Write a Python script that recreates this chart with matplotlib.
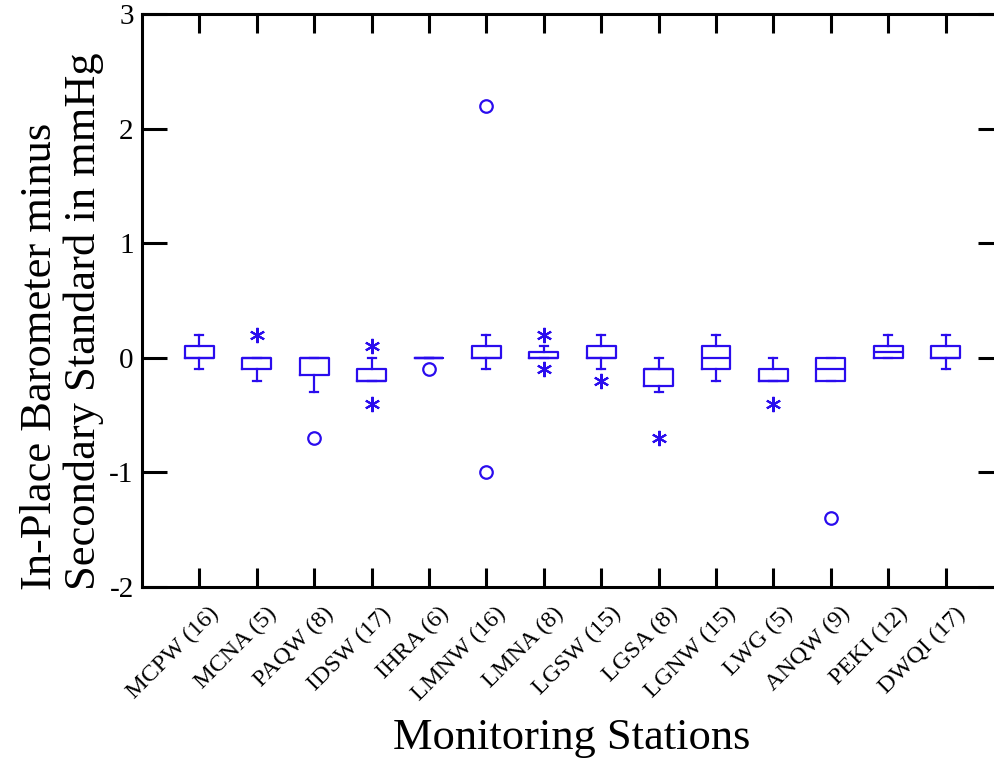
import numpy as np
import matplotlib.pyplot as plt
import matplotlib.transforms as mtransforms

plt.rcParams['font.family'] = ['Liberation Serif', 'DejaVu Serif']

estacoes = ["MCPW (16)", "MCNA (5)", "PAQW (8)", "IDSW (17)", "IHRA (6)",
            "LMNW (16)", "LMNA (8)", "LGSW (15)", "LGSA (8)", "LGNW (15)",
            "LWG (5)", "ANQW (9)", "PEKI (12)", "DWQI (17)"]

q1 = [0.0, -0.1, -0.15, -0.2, 0.0, 0.0, 0.0, 0.0, -0.25, -0.1, -0.2, -0.2, 0.0, 0.0]
mediana = [0.0, 0.0, 0.0, -0.2, 0.0, 0.0, 0.0, 0.0, -0.1, 0.0, -0.2, -0.1, 0.05, 0.0]
q3 = [0.1, 0.0, 0.0, -0.1, 0.0, 0.1, 0.05, 0.1, -0.1, 0.1, -0.1, 0.0, 0.1, 0.1]
bigode_inf = [-0.1, -0.2, -0.3, -0.2, 0.0, -0.1, 0.0, -0.1, -0.3, -0.2, -0.2, -0.2, 0.0, -0.1]
bigode_sup = [0.2, 0.0, 0.0, 0.0, 0.0, 0.2, 0.1, 0.2, 0.0, 0.2, 0.0, 0.0, 0.2, 0.2]

# outliers: asterisco = proximo, circulo = distante
asteriscos = {"MCNA (5)": [0.2], "IDSW (17)": [0.1, -0.4], "LMNA (8)": [0.2, -0.1],
              "LGSW (15)": [-0.2], "LGSA (8)": [-0.7], "LWG (5)": [-0.4]}
circulos = {"PAQW (8)": [-0.7], "IHRA (6)": [-0.1], "LMNW (16)": [2.2, -1.0],
            "ANQW (9)": [-1.4]}

AZUL = "#2a0cee"

fig = plt.figure(figsize=(9.95, 7.61), dpi=100)
ax = fig.add_axes([0.1427, 0.2286, 0.8653, 0.7530])

stats = []
for i, nome in enumerate(estacoes):
    stats.append({"med": mediana[i], "q1": q1[i], "q3": q3[i],
                  "whislo": bigode_inf[i], "whishi": bigode_sup[i], "fliers": []})

pos = np.arange(1, len(estacoes) + 1)
ax.bxp(stats, positions=pos, widths=0.5, capwidths=0.14, showfliers=False,
       boxprops=dict(color=AZUL, linewidth=1.6),
       medianprops=dict(color=AZUL, linewidth=1.6),
       whiskerprops=dict(color=AZUL, linewidth=1.6),
       capprops=dict(color=AZUL, linewidth=1.6))

for i, nome in enumerate(estacoes):
    for v in asteriscos.get(nome, []):
        ax.plot(pos[i], v, marker=(6, 2, 0), color=AZUL, markersize=11,
                markeredgewidth=1.5, linestyle="none")
    for v in circulos.get(nome, []):
        ax.plot(pos[i], v, marker="o", markerfacecolor="none", markeredgecolor=AZUL,
                markersize=9, markeredgewidth=1.6, linestyle="none")

ax.set_xlim(0, 15)
ax.set_ylim(-2, 3)
ax.set_yticks([-2, -1, 0, 1, 2, 3])
ax.set_yticklabels(["-2", "-1", "0", "1", "2", "3"], fontsize=21)
ax.set_xticks(pos)
ax.set_xticklabels([])

# rotulos das estacoes escritos a mao (deslocados para a direita)
desloc = mtransforms.ScaledTranslation(6.5 / 72, -11.5 / 72, fig.dpi_scale_trans)
for i, nome in enumerate(estacoes):
    ax.text(pos[i], 0, nome, transform=ax.get_xaxis_transform() + desloc,
            fontsize=17.5, rotation=45, ha="right", va="top", rotation_mode="anchor")

for s in ax.spines.values():
    s.set_linewidth(2.2)
ax.tick_params(axis="y", direction="in", left=True, right=True, length=18, width=2.2, pad=6)
ax.tick_params(axis="x", direction="in", top=True, bottom=True, length=14, width=2.2, pad=6)

fig.text(0.062, 0.2247, "In-Place Barometer minus\nSecondary Standard in mmHg",
         rotation=90, ha="center", va="bottom", multialignment="left",
         fontsize=32, linespacing=1.1)
fig.text(0.575, 0.0158, "Monitoring Stations", ha="center", va="baseline", fontsize=32)

fig.savefig("out.png", dpi=100)
